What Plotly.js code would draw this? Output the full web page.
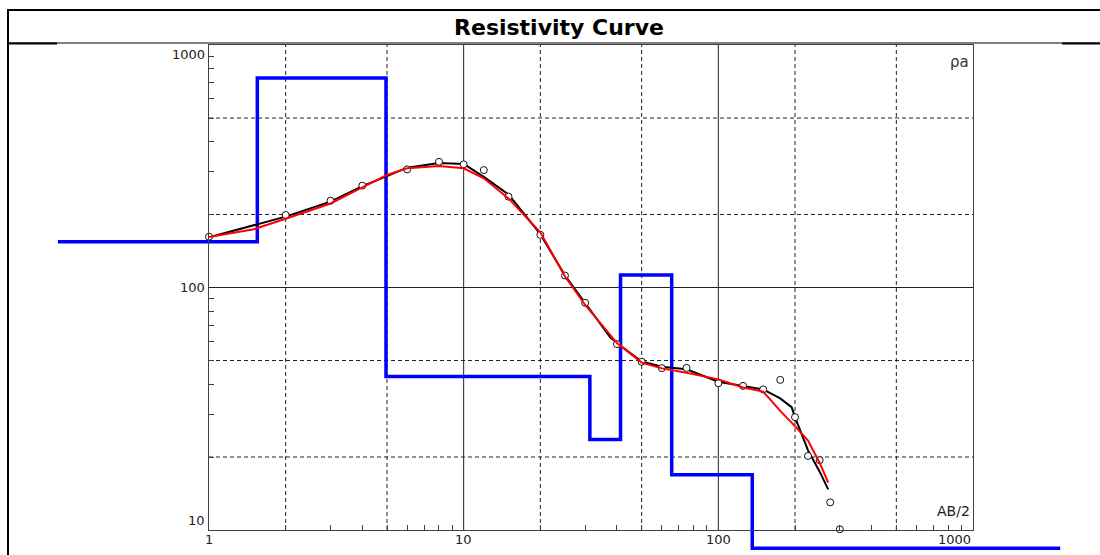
<!DOCTYPE html>
<html><head><meta charset="utf-8">
<script src="https://cdn.plot.ly/plotly-3.0.1.min.js"></script>
<style>html,body{margin:0;padding:0;background:#fff;}#chart{width:1100px;height:555px;}</style>
</head><body><div id="chart"></div>
<script>
// Measured apparent resistivity (open circles)
const measAB2 = [1, 2, 3, 4, 6, 8, 10, 12, 15, 20, 25, 30, 40, 50, 60, 75, 100, 125, 150, 175, 200, 225, 250, 275, 300];
const measRho = [162, 199, 228, 263, 307, 330, 322, 305, 237, 165, 112, 86.5, 58.4, 49.4, 46.5, 46.6, 40.3, 39.3, 38.0, 41.6, 29.2, 20.2, 19.4, 13.0, 10.07];

// Smoothed field curve (black)
const fieldAB2 = [1, 2, 3, 4, 5, 6, 8, 10, 12, 15, 20, 25, 30, 37.6, 40, 50, 60, 75, 100, 125, 150, 175, 194, 200, 225, 250, 270];
const fieldRho = [161, 196, 226, 262, 288, 312, 326, 323, 286, 242, 166, 112, 86.3, 62.3, 59, 49.5, 47.1, 46, 40.9, 39.3, 38, 34.9, 32.1, 29.2, 21.3, 17.4, 14.7];

// Calculated model curve (red)
const calcAB2 = [1, 1.5, 2, 3, 4, 5, 6, 8, 10, 12, 15, 20, 25, 30, 40, 50, 60, 75, 100, 125, 150, 175, 200, 225, 250, 270];
const calcRho = [161.5, 174, 192, 222, 259, 291, 310, 317, 310, 282, 233, 169, 111, 84.7, 59, 49, 46.4, 44.5, 41.8, 38.7, 37.2, 31, 26.8, 23.4, 18.9, 15.7];

// Layered model (blue steps): layer bottoms and resistivities
const modelStart = 0.255;
const modelDepths = [1.548, 4.955, 31.3, 41.3, 65.6, 135.9];
const modelRho = [154.5, 731, 43.0, 23.6, 112.6, 16.9, 8.4];
const modelEnd = 2200;

// Axis decoration values
const xLabelVals = [1, 10, 100, 1000];
const yLabelVals = [10, 100, 1000];
const xGridSolid = [10, 100];
const xGridDash = [2, 5, 20, 50, 200, 500];
const yGridSolid = [100];
const yGridDash = [20, 50, 200, 500];
const minorMult = [2, 3, 4, 5, 6, 7, 8, 9];
const xDecades = [1, 10, 100];
const yDecades = [10, 100];

// Geometry
const W = 1100, H = 555;
const plotL = 209, plotR = 973, plotT = 45, plotB = 530;
const xRange = [0, 3], yRange = [1, 3];
const pxDecX = (plotR - plotL) / (xRange[1] - xRange[0]);
const pxDecY = (plotB - plotT) / (yRange[1] - yRange[0]);
const fullX = [xRange[0] - plotL / pxDecX, xRange[1] + (W - plotR) / pxDecX];
const fullY = [yRange[0] - (H - plotB) / pxDecY, yRange[1] + plotT / pxDecY];
const xDom = [plotL / W, plotR / W];
const yDom = [1 - plotB / H, 1 - plotT / H];

const xMinor = [], yMinor = [];
xDecades.forEach(d => minorMult.forEach(m => xMinor.push(d * m)));
yDecades.forEach(d => minorMult.forEach(m => yMinor.push(d * m)));

// Step line for the model
const stepX = [modelStart], stepY = [modelRho[0]];
modelDepths.forEach((d, i) => { stepX.push(d, d); stepY.push(modelRho[i], modelRho[i + 1]); });
stepX.push(modelEnd); stepY.push(modelRho[modelRho.length - 1]);

const traces = [
  {x: stepX, y: stepY, xaxis: 'x', yaxis: 'y', mode: 'lines', line: {color: '#0000ff', width: 3.5}, hoverinfo: 'skip'},
  {x: fieldAB2, y: fieldRho, xaxis: 'x2', yaxis: 'y2', mode: 'lines', line: {color: '#000', width: 2}},
  {x: measAB2, y: measRho, xaxis: 'x2', yaxis: 'y2', mode: 'markers', cliponaxis: false,
   marker: {symbol: 'circle', size: 7, color: '#ffffff', line: {color: '#111', width: 1}}},
  {x: calcAB2, y: calcRho, xaxis: 'x2', yaxis: 'y2', mode: 'lines', line: {color: '#ff0000', width: 2}}
];

const shapes = [];
const gline = '#222';
xGridSolid.forEach(v => shapes.push({type: 'line', layer: 'below', xref: 'x2', yref: 'paper', x0: v, x1: v, y0: yDom[0], y1: yDom[1], line: {color: gline, width: 1}}));
xGridDash.forEach(v => shapes.push({type: 'line', layer: 'below', xref: 'x2', yref: 'paper', x0: v, x1: v, y0: yDom[0], y1: yDom[1], line: {color: gline, width: 1, dash: '4px,3px'}}));
yGridSolid.forEach(v => shapes.push({type: 'line', layer: 'below', yref: 'y2', xref: 'paper', y0: v, y1: v, x0: xDom[0], x1: xDom[1], line: {color: gline, width: 1}}));
yGridDash.forEach(v => shapes.push({type: 'line', layer: 'below', yref: 'y2', xref: 'paper', y0: v, y1: v, x0: xDom[0], x1: xDom[1], line: {color: gline, width: 1, dash: '4px,3px'}}));

// Outer frame of the sheet
const px = v => v / W, py = v => 1 - v / H;
shapes.push({type: 'line', xref: 'paper', yref: 'paper', x0: px(8), x1: 1, y0: py(10), y1: py(10), line: {color: '#000', width: 2}});
shapes.push({type: 'line', xref: 'paper', yref: 'paper', x0: px(8), x1: px(8), y0: 0, y1: py(9), line: {color: '#000', width: 2}});
shapes.push({type: 'line', xref: 'paper', yref: 'paper', x0: px(8), x1: 1, y0: py(43), y1: py(43), line: {color: '#000', width: 1}});
shapes.push({type: 'line', xref: 'paper', yref: 'paper', x0: px(8), x1: px(57), y0: py(43.5), y1: py(43.5), line: {color: '#000', width: 2}});
shapes.push({type: 'line', xref: 'paper', yref: 'paper', x0: px(1062), x1: 1, y0: py(43.5), y1: py(43.5), line: {color: '#000', width: 2}});

const tickFont = {family: 'DejaVu Sans, Liberation Sans, sans-serif', size: 13, color: '#222'};
const annotations = [];
xLabelVals.forEach((v, i) => annotations.push({
  xref: 'x2', yref: 'paper', x: Math.log10(v), y: py(539), text: String(v), showarrow: false,
  xanchor: i === xLabelVals.length - 1 ? 'right' : 'center', yanchor: 'middle', font: tickFont
}));
yLabelVals.forEach((v, i) => annotations.push({
  xref: 'paper', yref: 'y2', x: px(207), y: Math.log10(v), text: String(v), showarrow: false,
  xanchor: 'right', yanchor: i === 0 ? 'bottom' : (i === yLabelVals.length - 1 ? 'top' : 'middle'), font: tickFont
}));
annotations.push({xref: 'paper', yref: 'paper', x: px(972), y: py(511), text: 'AB/2', showarrow: false,
  xanchor: 'right', yanchor: 'middle', font: {family: 'DejaVu Sans, sans-serif', size: 14, color: '#222'}});
annotations.push({xref: 'paper', yref: 'paper', x: px(971), y: py(62), text: 'ρa', showarrow: false,
  xanchor: 'right', yanchor: 'middle', font: {family: 'DejaVu Sans, sans-serif', size: 15, color: '#333'}});

const axCommon = {type: 'log', showline: true, mirror: true, linecolor: '#404040', linewidth: 1,
  ticks: 'inside', ticklen: 5, tickcolor: '#404040', tickwidth: 1, showticklabels: false,
  showgrid: false, zeroline: false, fixedrange: true};

const layout = {
  width: W, height: H,
  margin: {l: 0, r: 0, t: 0, b: 0, pad: 0},
  paper_bgcolor: '#ffffff', plot_bgcolor: 'rgba(0,0,0,0)',
  showlegend: false,
  title: {text: '<b>Resistivity Curve</b>', x: 559 / W, xanchor: 'center', xref: 'container',
          y: 1 - 27 / H, yanchor: 'middle', yref: 'container',
          font: {family: 'DejaVu Sans, sans-serif', size: 22, color: '#000'}},
  xaxis: {type: 'log', domain: [0, 1], range: fullX, visible: false, fixedrange: true},
  yaxis: {type: 'log', domain: [0, 1], range: fullY, visible: false, fixedrange: true},
  xaxis2: Object.assign({}, axCommon, {domain: xDom, range: xRange, anchor: 'y2', tickmode: 'array', tickvals: xMinor}),
  yaxis2: Object.assign({}, axCommon, {domain: yDom, range: yRange, anchor: 'x2', tickmode: 'array', tickvals: yMinor}),
  shapes: shapes,
  annotations: annotations
};

Plotly.newPlot('chart', traces, layout, {displayModeBar: false, staticPlot: true});
</script>
</body></html>
